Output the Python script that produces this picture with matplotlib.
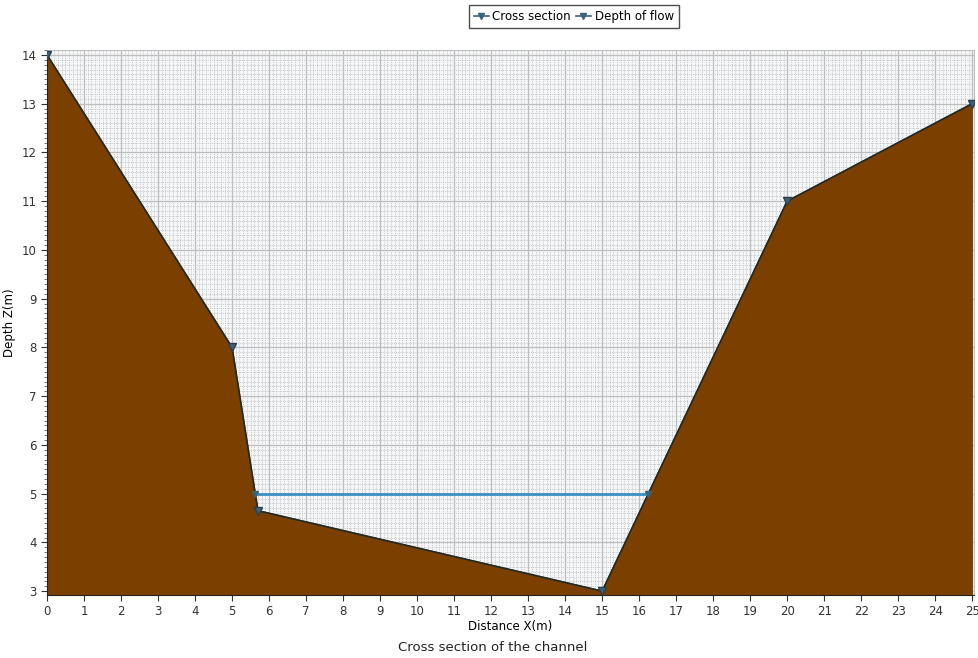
import matplotlib.pyplot as plt
from matplotlib.ticker import MultipleLocator
from matplotlib.lines import Line2D

# Cross section of the channel (distance X, depth Z)
dist_x = [0, 5, 5.7, 15, 20, 25]
depth_z = [14, 8, 4.65, 3, 11, 13]

# Depth of flow (water surface)
flow_x = [5.627, 16.25]
flow_z = [5, 5]

fig = plt.figure(figsize=(9.79, 6.58), dpi=100)
ax = fig.add_axes([0.048, 0.0957, 0.947, 0.8283])
ax.set_facecolor('#f4f6f8')

# fundo do terreno
ax.fill_between(dist_x, depth_z, 0, color='#7b4000', zorder=2)
ax.plot(dist_x, depth_z, color='#1e2a2a', lw=1.2, zorder=3)
ax.plot(dist_x, depth_z, ls='none', marker='v', ms=6, color='#3d6378',
        markeredgecolor='#2a3f4e', zorder=4)

# linha da água
ax.plot(flow_x, flow_z, color='#3a8fc4', lw=2, zorder=3)
ax.plot(flow_x, flow_z, ls='none', marker='v', ms=5, color='#3d6378', zorder=4)

ax.set_xlim(0, 25.05)
ax.set_ylim(2.92, 14.1)
ax.xaxis.set_major_locator(MultipleLocator(1))
ax.yaxis.set_major_locator(MultipleLocator(1))
ax.xaxis.set_minor_locator(MultipleLocator(0.1))
ax.yaxis.set_minor_locator(MultipleLocator(0.1))
ax.tick_params(axis='x', which='minor', length=0)
ax.tick_params(axis='y', which='minor', length=2.5, color='#666666')
ax.tick_params(which='major', length=4, labelsize=8.5, colors='#333333')

ax.grid(which='major', color='#bdbdbd', lw=0.9, zorder=0)
ax.grid(which='minor', color='#c6c6c6', lw=0.7, ls=(0, (1, 1.2)), zorder=0)
ax.set_axisbelow(True)

for s in ['top', 'right']:
    ax.spines[s].set_color('#c0c0c0')
for s in ['left', 'bottom']:
    ax.spines[s].set_color('#222222')

ax.set_xlabel('Distance X(m)', fontsize=8.5, labelpad=1)
ax.set_ylabel('Depth Z(m)', fontsize=8.5, labelpad=4)
fig.text(0.503, 0.006, 'Cross section of the channel', ha='center',
         va='bottom', fontsize=9.5, color='#222222')

handles = [
    Line2D([], [], color='#3d6378', marker='v', ms=5, lw=1.2),
    Line2D([], [], color='#3d6378', marker='v', ms=5, lw=1.2),
]
fig.legend(handles, ['Cross section', 'Depth of flow'], loc='upper center',
           bbox_to_anchor=(0.586, 1.0), ncol=2, fontsize=8.5, frameon=True,
           fancybox=False, edgecolor='#222222', handlelength=1.3,
           handletextpad=0.3, columnspacing=0.4, borderpad=0.4,
           borderaxespad=0.45)

fig.savefig('out.png', dpi=100)
